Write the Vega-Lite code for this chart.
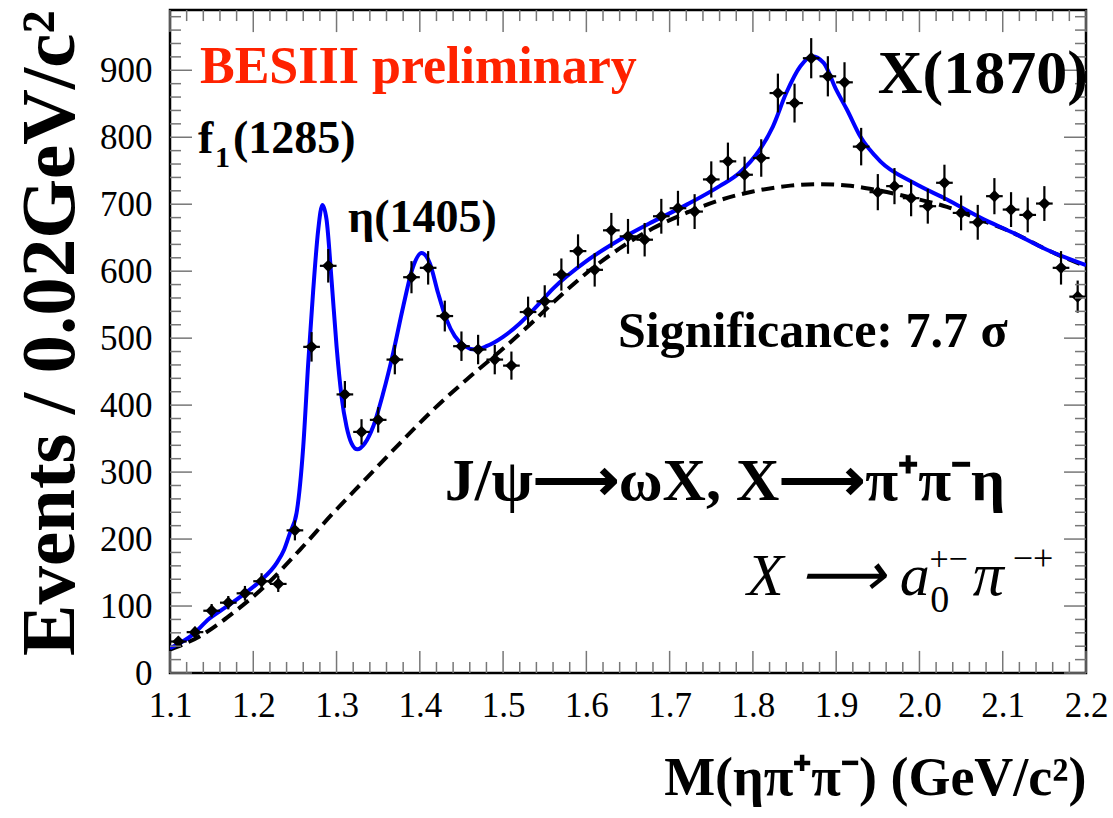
{
  "$schema": "https://vega.github.io/schema/vega-lite/v6.json",
  "autosize": {"type": "none"},
  "width": 916,
  "height": 663,
  "padding": {"left": 170, "top": 10, "right": 27, "bottom": 145},
  "background": "white",
  "config": {
    "view": {"stroke": "black", "strokeWidth": 2.5},
    "text": {"font": "Liberation Serif", "color": "black", "align": "left", "baseline": "alphabetic"}
  },
  "datasets": {
    "points": [
      {"m": 1.11, "lo": 1.10, "hi": 1.12, "n": 47, "e": 7},
      {"m": 1.13, "lo": 1.12, "hi": 1.14, "n": 61, "e": 8},
      {"m": 1.15, "lo": 1.14, "hi": 1.16, "n": 93, "e": 10},
      {"m": 1.17, "lo": 1.16, "hi": 1.18, "n": 105, "e": 10},
      {"m": 1.19, "lo": 1.18, "hi": 1.20, "n": 119, "e": 11},
      {"m": 1.21, "lo": 1.20, "hi": 1.22, "n": 137, "e": 12},
      {"m": 1.23, "lo": 1.22, "hi": 1.24, "n": 133, "e": 12},
      {"m": 1.25, "lo": 1.24, "hi": 1.26, "n": 213, "e": 15},
      {"m": 1.27, "lo": 1.26, "hi": 1.28, "n": 487, "e": 22},
      {"m": 1.29, "lo": 1.28, "hi": 1.30, "n": 608, "e": 25},
      {"m": 1.31, "lo": 1.30, "hi": 1.32, "n": 416, "e": 20},
      {"m": 1.33, "lo": 1.32, "hi": 1.34, "n": 360, "e": 19},
      {"m": 1.35, "lo": 1.34, "hi": 1.36, "n": 378, "e": 19},
      {"m": 1.37, "lo": 1.36, "hi": 1.38, "n": 468, "e": 22},
      {"m": 1.39, "lo": 1.38, "hi": 1.40, "n": 591, "e": 24},
      {"m": 1.41, "lo": 1.40, "hi": 1.42, "n": 605, "e": 25},
      {"m": 1.43, "lo": 1.42, "hi": 1.44, "n": 533, "e": 23},
      {"m": 1.45, "lo": 1.44, "hi": 1.46, "n": 488, "e": 22},
      {"m": 1.47, "lo": 1.46, "hi": 1.48, "n": 483, "e": 22},
      {"m": 1.49, "lo": 1.48, "hi": 1.50, "n": 468, "e": 22},
      {"m": 1.51, "lo": 1.50, "hi": 1.52, "n": 459, "e": 21},
      {"m": 1.53, "lo": 1.52, "hi": 1.54, "n": 539, "e": 23},
      {"m": 1.55, "lo": 1.54, "hi": 1.56, "n": 555, "e": 24},
      {"m": 1.57, "lo": 1.56, "hi": 1.58, "n": 595, "e": 24},
      {"m": 1.59, "lo": 1.58, "hi": 1.60, "n": 630, "e": 25},
      {"m": 1.61, "lo": 1.60, "hi": 1.62, "n": 602, "e": 25},
      {"m": 1.63, "lo": 1.62, "hi": 1.64, "n": 661, "e": 26},
      {"m": 1.65, "lo": 1.64, "hi": 1.66, "n": 652, "e": 26},
      {"m": 1.67, "lo": 1.66, "hi": 1.68, "n": 647, "e": 25},
      {"m": 1.69, "lo": 1.68, "hi": 1.70, "n": 682, "e": 26},
      {"m": 1.71, "lo": 1.70, "hi": 1.72, "n": 694, "e": 26},
      {"m": 1.73, "lo": 1.72, "hi": 1.74, "n": 689, "e": 26},
      {"m": 1.75, "lo": 1.74, "hi": 1.76, "n": 737, "e": 27},
      {"m": 1.77, "lo": 1.76, "hi": 1.78, "n": 764, "e": 28},
      {"m": 1.79, "lo": 1.78, "hi": 1.80, "n": 744, "e": 27},
      {"m": 1.81, "lo": 1.80, "hi": 1.82, "n": 769, "e": 28},
      {"m": 1.83, "lo": 1.82, "hi": 1.84, "n": 866, "e": 29},
      {"m": 1.85, "lo": 1.84, "hi": 1.86, "n": 851, "e": 29},
      {"m": 1.87, "lo": 1.86, "hi": 1.88, "n": 918, "e": 30},
      {"m": 1.89, "lo": 1.88, "hi": 1.90, "n": 891, "e": 30},
      {"m": 1.91, "lo": 1.90, "hi": 1.92, "n": 882, "e": 30},
      {"m": 1.93, "lo": 1.92, "hi": 1.94, "n": 786, "e": 28},
      {"m": 1.95, "lo": 1.94, "hi": 1.96, "n": 718, "e": 27},
      {"m": 1.97, "lo": 1.96, "hi": 1.98, "n": 727, "e": 27},
      {"m": 1.99, "lo": 1.98, "hi": 2.00, "n": 709, "e": 27},
      {"m": 2.01, "lo": 2.00, "hi": 2.02, "n": 697, "e": 26},
      {"m": 2.03, "lo": 2.02, "hi": 2.04, "n": 732, "e": 27},
      {"m": 2.05, "lo": 2.04, "hi": 2.06, "n": 687, "e": 26},
      {"m": 2.07, "lo": 2.06, "hi": 2.08, "n": 673, "e": 26},
      {"m": 2.09, "lo": 2.08, "hi": 2.10, "n": 712, "e": 27},
      {"m": 2.11, "lo": 2.10, "hi": 2.12, "n": 692, "e": 26},
      {"m": 2.13, "lo": 2.12, "hi": 2.14, "n": 684, "e": 26},
      {"m": 2.15, "lo": 2.14, "hi": 2.16, "n": 701, "e": 26},
      {"m": 2.17, "lo": 2.16, "hi": 2.18, "n": 605, "e": 25},
      {"m": 2.19, "lo": 2.18, "hi": 2.20, "n": 562, "e": 24}
    ],
    "total": [
      {"m": 1.100, "n": 37}, {"m": 1.127, "n": 57}, {"m": 1.147, "n": 81},
      {"m": 1.168, "n": 99}, {"m": 1.188, "n": 117}, {"m": 1.208, "n": 137},
      {"m": 1.228, "n": 164}, {"m": 1.237, "n": 184}, {"m": 1.244, "n": 209},
      {"m": 1.252, "n": 239}, {"m": 1.260, "n": 338}, {"m": 1.266, "n": 463},
      {"m": 1.272, "n": 572}, {"m": 1.278, "n": 662}, {"m": 1.283, "n": 699},
      {"m": 1.288, "n": 677}, {"m": 1.294, "n": 587}, {"m": 1.300, "n": 488},
      {"m": 1.306, "n": 413}, {"m": 1.312, "n": 368}, {"m": 1.318, "n": 343},
      {"m": 1.325, "n": 334}, {"m": 1.334, "n": 343}, {"m": 1.344, "n": 368},
      {"m": 1.356, "n": 418}, {"m": 1.368, "n": 478}, {"m": 1.380, "n": 547},
      {"m": 1.392, "n": 607}, {"m": 1.402, "n": 627}, {"m": 1.412, "n": 612},
      {"m": 1.422, "n": 567}, {"m": 1.432, "n": 528}, {"m": 1.442, "n": 503},
      {"m": 1.454, "n": 488}, {"m": 1.466, "n": 483}, {"m": 1.480, "n": 488},
      {"m": 1.500, "n": 502}, {"m": 1.520, "n": 522}, {"m": 1.540, "n": 547},
      {"m": 1.560, "n": 574}, {"m": 1.600, "n": 615}, {"m": 1.640, "n": 647},
      {"m": 1.680, "n": 674}, {"m": 1.720, "n": 699}, {"m": 1.760, "n": 727},
      {"m": 1.784, "n": 747}, {"m": 1.808, "n": 781}, {"m": 1.824, "n": 816},
      {"m": 1.840, "n": 866}, {"m": 1.857, "n": 906}, {"m": 1.871, "n": 921},
      {"m": 1.885, "n": 911}, {"m": 1.900, "n": 871}, {"m": 1.913, "n": 841},
      {"m": 1.929, "n": 801}, {"m": 1.953, "n": 764}, {"m": 1.993, "n": 732},
      {"m": 2.033, "n": 707}, {"m": 2.073, "n": 680}, {"m": 2.113, "n": 657},
      {"m": 2.153, "n": 632}, {"m": 2.200, "n": 609}
    ],
    "background": [
      {"m": 1.100, "n": 35}, {"m": 1.136, "n": 55}, {"m": 1.176, "n": 90},
      {"m": 1.216, "n": 132}, {"m": 1.256, "n": 184}, {"m": 1.296, "n": 239},
      {"m": 1.336, "n": 291}, {"m": 1.376, "n": 343}, {"m": 1.416, "n": 393},
      {"m": 1.456, "n": 438}, {"m": 1.496, "n": 480}, {"m": 1.532, "n": 520},
      {"m": 1.560, "n": 553}, {"m": 1.600, "n": 597}, {"m": 1.640, "n": 634},
      {"m": 1.680, "n": 664}, {"m": 1.720, "n": 687}, {"m": 1.760, "n": 706},
      {"m": 1.800, "n": 719}, {"m": 1.840, "n": 727}, {"m": 1.880, "n": 730},
      {"m": 1.913, "n": 728}, {"m": 1.945, "n": 722}, {"m": 1.993, "n": 709},
      {"m": 2.033, "n": 696}, {"m": 2.073, "n": 677}, {"m": 2.113, "n": 657},
      {"m": 2.153, "n": 632}, {"m": 2.200, "n": 607}
    ],
    "xmajor": [
      {"v": 1.1}, {"v": 1.2}, {"v": 1.3}, {"v": 1.4}, {"v": 1.5}, {"v": 1.6},
      {"v": 1.7}, {"v": 1.8}, {"v": 1.9}, {"v": 2.0}, {"v": 2.1}, {"v": 2.2}
    ],
    "xminor": [
      {"v": 1.12}, {"v": 1.14}, {"v": 1.16}, {"v": 1.18},
      {"v": 1.22}, {"v": 1.24}, {"v": 1.26}, {"v": 1.28},
      {"v": 1.32}, {"v": 1.34}, {"v": 1.36}, {"v": 1.38},
      {"v": 1.42}, {"v": 1.44}, {"v": 1.46}, {"v": 1.48},
      {"v": 1.52}, {"v": 1.54}, {"v": 1.56}, {"v": 1.58},
      {"v": 1.62}, {"v": 1.64}, {"v": 1.66}, {"v": 1.68},
      {"v": 1.72}, {"v": 1.74}, {"v": 1.76}, {"v": 1.78},
      {"v": 1.82}, {"v": 1.84}, {"v": 1.86}, {"v": 1.88},
      {"v": 1.92}, {"v": 1.94}, {"v": 1.96}, {"v": 1.98},
      {"v": 2.02}, {"v": 2.04}, {"v": 2.06}, {"v": 2.08},
      {"v": 2.12}, {"v": 2.14}, {"v": 2.16}, {"v": 2.18}
    ],
    "ymajor": [
      {"v": 0}, {"v": 100}, {"v": 200}, {"v": 300}, {"v": 400},
      {"v": 500}, {"v": 600}, {"v": 700}, {"v": 800}, {"v": 900}
    ],
    "yminor": [
      {"v": 20}, {"v": 40}, {"v": 60}, {"v": 80},
      {"v": 120}, {"v": 140}, {"v": 160}, {"v": 180},
      {"v": 220}, {"v": 240}, {"v": 260}, {"v": 280},
      {"v": 320}, {"v": 340}, {"v": 360}, {"v": 380},
      {"v": 420}, {"v": 440}, {"v": 460}, {"v": 480},
      {"v": 520}, {"v": 540}, {"v": 560}, {"v": 580},
      {"v": 620}, {"v": 640}, {"v": 660}, {"v": 680},
      {"v": 720}, {"v": 740}, {"v": 760}, {"v": 780},
      {"v": 820}, {"v": 840}, {"v": 860}, {"v": 880},
      {"v": 920}, {"v": 940}, {"v": 960}, {"v": 980}
    ],
    "anchor": [{}]
  },
  "layer": [
    {
      "data": {"name": "background"},
      "mark": {"type": "line", "color": "black", "strokeWidth": 4, "strokeDash": [13, 7], "interpolate": "monotone", "clip": true},
      "encoding": {
        "x": {
          "field": "m", "type": "quantitative",
          "title": "M(ηπ⁺π⁻) (GeV/c²)",
          "scale": {"domain": [1.1, 2.2], "nice": false, "zero": false},
          "axis": {
            "title": "M(ηπ⁺π⁻) (GeV/c²)",
            "values": [1.1, 1.2, 1.3, 1.4, 1.5, 1.6, 1.7, 1.8, 1.9, 2.0, 2.1, 2.2],
            "format": ".1f",
            "ticks": false, "domain": false, "grid": false,
            "labelFlush": false, "labelOverlap": false,
            "labelFont": "Liberation Serif", "labelFontSize": 35, "labelColor": "black", "labelPadding": 15,
            "titleFont": "Liberation Serif", "titleFontSize": 54, "titleFontWeight": "bold", "titleColor": "black",
            "titleAnchor": "end", "titlePadding": 28
          }
        },
        "y": {
          "field": "n", "type": "quantitative",
          "title": "Events / 0.02GeV/c²",
          "scale": {"domain": [0, 990], "nice": false, "zero": true},
          "axis": {
            "title": "Events / 0.02GeV/c²",
            "values": [0, 100, 200, 300, 400, 500, 600, 700, 800, 900],
            "ticks": false, "domain": false, "grid": false,
            "labelFlush": false, "labelOverlap": false,
            "labelFont": "Liberation Serif", "labelFontSize": 35, "labelColor": "black", "labelPadding": 18,
            "titleFont": "Liberation Serif", "titleFontSize": 77, "titleFontWeight": "bold", "titleColor": "black",
            "titleAnchor": "end", "titlePadding": 10
          }
        }
      }
    },
    {
      "data": {"name": "total"},
      "mark": {"type": "line", "color": "#0000ff", "strokeWidth": 4, "interpolate": "monotone", "clip": true},
      "encoding": {
        "x": {"field": "m", "type": "quantitative", "title": "M(ηπ⁺π⁻) (GeV/c²)"},
        "y": {"field": "n", "type": "quantitative", "title": "Events / 0.02GeV/c²"}
      }
    },
    {
      "data": {"name": "points"},
      "mark": {"type": "errorbar", "ticks": false, "color": "black", "thickness": 2.2},
      "encoding": {
        "x": {"field": "m", "type": "quantitative", "title": "M(ηπ⁺π⁻) (GeV/c²)"},
        "y": {"field": "n", "type": "quantitative", "title": "Events / 0.02GeV/c²"},
        "yError": {"field": "e"}
      }
    },
    {
      "data": {"name": "points"},
      "mark": {"type": "rule", "color": "black", "strokeWidth": 2.2},
      "encoding": {
        "x": {"field": "lo", "type": "quantitative", "title": "M(ηπ⁺π⁻) (GeV/c²)"},
        "x2": {"field": "hi"},
        "y": {"field": "n", "type": "quantitative", "title": "Events / 0.02GeV/c²"}
      }
    },
    {
      "data": {"name": "points"},
      "mark": {"type": "point", "shape": "diamond", "filled": true, "color": "black", "size": 150, "opacity": 1},
      "encoding": {
        "x": {"field": "m", "type": "quantitative", "title": "M(ηπ⁺π⁻) (GeV/c²)"},
        "y": {"field": "n", "type": "quantitative", "title": "Events / 0.02GeV/c²"}
      }
    },
    {
      "data": {"name": "xmajor"},
      "mark": {"type": "rule", "color": "#777777", "strokeWidth": 1.5},
      "encoding": {"x": {"field": "v", "type": "quantitative", "title": "M(ηπ⁺π⁻) (GeV/c²)"}, "y": {"datum": 0}, "y2": {"datum": 33}}
    },
    {
      "data": {"name": "xminor"},
      "mark": {"type": "rule", "color": "#777777", "strokeWidth": 1.5},
      "encoding": {"x": {"field": "v", "type": "quantitative", "title": "M(ηπ⁺π⁻) (GeV/c²)"}, "y": {"datum": 0}, "y2": {"datum": 16.5}}
    },
    {
      "data": {"name": "xmajor"},
      "mark": {"type": "rule", "color": "#777777", "strokeWidth": 1.5},
      "encoding": {"x": {"field": "v", "type": "quantitative", "title": "M(ηπ⁺π⁻) (GeV/c²)"}, "y": {"datum": 990}, "y2": {"datum": 957}}
    },
    {
      "data": {"name": "xminor"},
      "mark": {"type": "rule", "color": "#777777", "strokeWidth": 1.5},
      "encoding": {"x": {"field": "v", "type": "quantitative", "title": "M(ηπ⁺π⁻) (GeV/c²)"}, "y": {"datum": 990}, "y2": {"datum": 973.5}}
    },
    {
      "data": {"name": "ymajor"},
      "mark": {"type": "rule", "color": "#777777", "strokeWidth": 1.5},
      "encoding": {"y": {"field": "v", "type": "quantitative", "title": "Events / 0.02GeV/c²"}, "x": {"datum": 1.1}, "x2": {"datum": 1.1264}}
    },
    {
      "data": {"name": "yminor"},
      "mark": {"type": "rule", "color": "#777777", "strokeWidth": 1.5},
      "encoding": {"y": {"field": "v", "type": "quantitative", "title": "Events / 0.02GeV/c²"}, "x": {"datum": 1.1}, "x2": {"datum": 1.1132}}
    },
    {
      "data": {"name": "ymajor"},
      "mark": {"type": "rule", "color": "#777777", "strokeWidth": 1.5},
      "encoding": {"y": {"field": "v", "type": "quantitative", "title": "Events / 0.02GeV/c²"}, "x": {"datum": 2.2}, "x2": {"datum": 2.1736}}
    },
    {
      "data": {"name": "yminor"},
      "mark": {"type": "rule", "color": "#777777", "strokeWidth": 1.5},
      "encoding": {"y": {"field": "v", "type": "quantitative", "title": "Events / 0.02GeV/c²"}, "x": {"datum": 2.2}, "x2": {"datum": 2.1868}}
    },
    {
      "data": {"name": "anchor"},
      "mark": {"type": "text", "text": "BESIII preliminary", "fontSize": 52, "fontWeight": "bold", "color": "#ff2200"},
      "encoding": {"x": {"datum": 1.136}, "y": {"datum": 881}}
    },
    {
      "data": {"name": "anchor"},
      "mark": {"type": "text", "text": "f", "fontSize": 46, "fontWeight": "bold"},
      "encoding": {"x": {"datum": 1.1336}, "y": {"datum": 777}}
    },
    {
      "data": {"name": "anchor"},
      "mark": {"type": "text", "text": "1", "fontSize": 30, "fontWeight": "bold"},
      "encoding": {"x": {"datum": 1.154}, "y": {"datum": 756}}
    },
    {
      "data": {"name": "anchor"},
      "mark": {"type": "text", "text": "(1285)", "fontSize": 46, "fontWeight": "bold"},
      "encoding": {"x": {"datum": 1.1757}, "y": {"datum": 777}}
    },
    {
      "data": {"name": "anchor"},
      "mark": {"type": "text", "text": "η(1405)", "fontSize": 46, "fontWeight": "bold"},
      "encoding": {"x": {"datum": 1.3138}, "y": {"datum": 658}}
    },
    {
      "data": {"name": "anchor"},
      "mark": {"type": "text", "text": "X(1870)", "fontSize": 62, "fontWeight": "bold"},
      "encoding": {"x": {"datum": 1.95}, "y": {"datum": 866}}
    },
    {
      "data": {"name": "anchor"},
      "mark": {"type": "text", "text": "Significance: 7.7 σ", "fontSize": 50, "fontWeight": "bold"},
      "encoding": {"x": {"datum": 1.638}, "y": {"datum": 487}}
    },
    {
      "data": {"name": "anchor"},
      "mark": {"type": "text", "text": "J/ψ⟶ωX, X⟶π⁺π⁻η", "fontSize": 60, "fontWeight": "bold"},
      "encoding": {"x": {"datum": 1.43}, "y": {"datum": 259}}
    },
    {
      "data": {"name": "anchor"},
      "mark": {"type": "text", "text": "X ⟶ a", "fontSize": 60, "fontStyle": "italic"},
      "encoding": {"x": {"datum": 1.793}, "y": {"datum": 117}}
    },
    {
      "data": {"name": "anchor"},
      "mark": {"type": "text", "text": "0", "fontSize": 38},
      "encoding": {"x": {"datum": 2.013}, "y": {"datum": 91}}
    },
    {
      "data": {"name": "anchor"},
      "mark": {"type": "text", "text": "+−", "fontSize": 34},
      "encoding": {"x": {"datum": 2.012}, "y": {"datum": 154}}
    },
    {
      "data": {"name": "anchor"},
      "mark": {"type": "text", "text": "π", "fontSize": 62, "fontStyle": "italic"},
      "encoding": {"x": {"datum": 2.064}, "y": {"datum": 117}}
    },
    {
      "data": {"name": "anchor"},
      "mark": {"type": "text", "text": "−+", "fontSize": 36},
      "encoding": {"x": {"datum": 2.112}, "y": {"datum": 154}}
    }
  ]
}
